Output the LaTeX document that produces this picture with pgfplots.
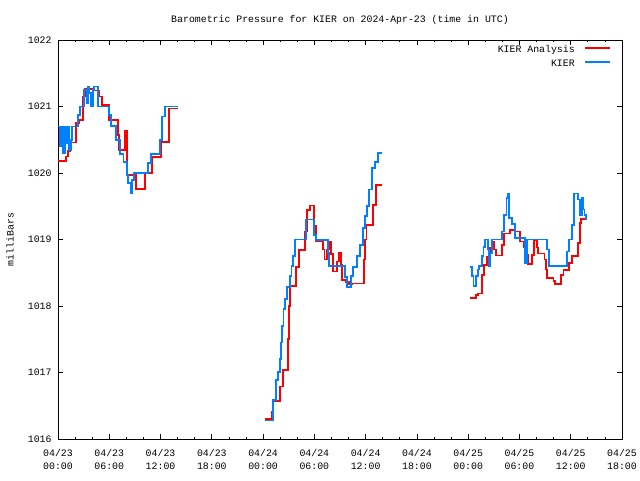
\documentclass[border=0pt]{standalone}
\usepackage{fontspec}
\setmainfont{Liberation Mono}
\usepackage{pgfplots}
\pgfplotsset{compat=1.18}
\definecolor{anared}{RGB}{255,0,0}
\definecolor{obsblue}{RGB}{0,128,255}
\newcommand{\gfont}{\fontsize{7.4pt}{9.75pt}\selectfont}
\pgfplotsset{
  anastyle/.style={const plot, draw=anared, color=anared, line width=1.3pt, mark=none},
  obsstyle/.style={const plot, draw=obsblue, color=obsblue, line width=1.3pt, mark=none},
}
\begin{document}
\begin{tikzpicture}
\path[use as bounding box] (-43.5pt,-30.75pt) rectangle (436.5pt,329.25pt);
\begin{axis}[
  at={(0,0)}, anchor=south west,
  scale only axis, width=423pt, height=299.25pt,
  xmin=0, xmax=66, ymin=1016, ymax=1022,
  xtick={0,6,...,66},
  xticklabels={{04/23\\00:00},{04/23\\06:00},{04/23\\12:00},{04/23\\18:00},{04/24\\00:00},{04/24\\06:00},{04/24\\12:00},{04/24\\18:00},{04/25\\00:00},{04/25\\06:00},{04/25\\12:00},{04/25\\18:00}},
  minor x tick num=2,
  ytick={1016,1017,...,1022},
  yticklabel style={/pgf/number format/1000 sep={}, /pgf/number format/assume math mode=true, font=\gfont, xshift=-1.3pt},
  xticklabel style={align=center, font=\gfont, yshift=-4.25pt},
  tick align=inside,
  major tick length=3.4pt, minor tick length=1.7pt,
  tick style={black, line width=0.6pt},
  axis line style={line width=0.6pt},
  title={Barometric Pressure for KIER on 2024-Apr-23 (time in UTC)},
  title style={font=\gfont, at={(0.5,1)}, anchor=base, yshift=7.15pt},
  ylabel={milliBars},
  ylabel style={font=\gfont, at={(axis description cs:0,0.5)}, anchor=center, rotate=0, yshift=36pt},
]
% KIER Analysis (red)
\addplot[anastyle] coordinates {
(0,1020.18) (0.94,1020.25) (1.17,1020.33) (1.40,1020.46) (2.11,1020.75) (2.42,1020.8)
(2.96,1021.15) (3.2,1021.26) (4.06,1021.24) (4.84,1021.15) (5.15,1021.02) (6.01,1020.8)
(7.06,1020.57) (7.14,1020.35) (7.84,1020.64) (8.07,1019.97) (9.09,1019.76) (10.18,1020.0)
(10.96,1020.24) (12.05,1020.47) (13.03,1020.97) (14.08,1020.97)};
% KIER (blue)
\addplot[obsstyle] coordinates {
(0,1020.7) (0.27,1020.4) (0.45,1020.7) (0.62,1020.3) (0.8,1020.7) (1.0,1020.45) (1.17,1020.7)
(1.33,1020.35) (1.5,1020.5) (1.6,1020.7) (2.3,1020.87) (2.57,1021.0) (3.08,1021.25)
(3.35,1021.05) (3.5,1021.3) (3.66,1021.2) (3.9,1021.0) (4.06,1021.25) (4.25,1021.3)
(4.64,1021.0) (6.0,1020.87) (6.2,1020.71) (6.79,1020.5) (7.26,1020.29) (7.65,1020.17)
(8.04,1019.97) (8.23,1019.85) (8.54,1019.7) (8.7,1019.9) (8.93,1020.0) (10.57,1020.15)
(10.88,1020.29) (11.94,1020.5) (12.2,1020.85) (12.52,1021.0) (14.08,1021.0)};
\addplot[anastyle] coordinates {
(24.22,1016.30) (25.0,1016.41) (25.2,1016.57) (25.98,1016.79) (26.29,1017.04) (26.95,1017.5)
(27.07,1018.0) (27.15,1018.30) (27.85,1018.59) (28.24,1018.84) (28.9,1019.12) (29.18,1019.44)
(29.5,1019.51) (29.95,1019.2) (30.15,1018.97) (31.05,1018.85) (31.2,1018.7) (31.52,1018.85)
(31.75,1018.97) (31.91,1018.78) (32.15,1018.52) (32.61,1018.67) (32.92,1018.8) (33.08,1018.62)
(33.24,1018.39) (33.7,1018.36) (34.09,1018.33) (34.37,1018.34) (35.81,1018.7) (35.95,1019.0)
(36.1,1019.22) (36.9,1019.52) (37.21,1019.82) (37.88,1019.82)};
\addplot[obsstyle] coordinates {
(24.22,1016.28) (25.2,1016.59) (25.51,1016.89) (25.78,1017.01) (25.95,1017.2) (26.1,1017.45)
(26.25,1017.7) (26.4,1017.95) (26.55,1018.1) (26.76,1018.29) (27.15,1018.45) (27.34,1018.6)
(27.54,1018.75) (27.74,1019.0) (29.0,1019.3) (29.95,1019.07) (30.15,1018.99) (31.56,1018.8)
(31.7,1018.6) (33.59,1018.44) (33.86,1018.29) (34.25,1018.45) (34.56,1018.59) (35.0,1018.75)
(35.34,1018.92) (35.73,1019.17) (35.95,1019.35) (36.12,1019.5) (36.4,1019.75) (36.71,1020.07)
(37.1,1020.17) (37.49,1020.3) (37.88,1020.3)};
\addplot[anastyle] coordinates {
(48.22,1018.12) (48.92,1018.17) (49.19,1018.19) (49.58,1018.47) (49.89,1018.62) (50.17,1018.74)
(50.56,1018.87) (50.75,1018.97) (51.06,1018.85) (51.22,1018.76) (51.92,1018.92) (52.23,1019.09)
(52.89,1019.14) (53.48,1019.12) (54.07,1018.97) (54.46,1018.89) (54.65,1018.95) (54.85,1018.77)
(55.04,1018.63) (55.51,1018.77) (55.74,1018.99) (56.02,1018.88) (56.21,1018.79) (56.92,1018.7)
(57.07,1018.55) (57.19,1018.42) (57.97,1018.38) (58.17,1018.33) (58.87,1018.47) (59.15,1018.54)
(59.84,1018.65) (60.11,1018.75) (60.89,1018.95) (61.09,1019.25) (61.2,1019.31) (61.87,1019.31)};
\addplot[obsstyle] coordinates {
(48.22,1018.59) (48.41,1018.45) (48.61,1018.30) (48.92,1018.45) (49.11,1018.55) (49.27,1018.60)
(49.58,1018.75) (49.78,1018.89) (49.95,1019.0) (50.28,1018.85) (50.40,1018.6) (50.56,1018.8)
(50.75,1019.0) (51.92,1019.12) (52.23,1019.37) (52.5,1019.62) (52.62,1019.69) (52.78,1019.32)
(53.09,1019.23) (53.48,1019.02) (54.65,1018.65) (54.85,1019.0) (57.19,1018.85) (57.46,1018.60)
(59.53,1018.82) (59.84,1019.0) (60.19,1019.22) (60.42,1019.69) (60.89,1019.6) (61.09,1019.37)
(61.29,1019.62) (61.44,1019.45) (61.6,1019.37) (61.76,1019.31) (61.87,1019.31)};
% legend
\node[anchor=base east, inner sep=0pt, font=\gfont] at (axis description cs:0.9167,0.9687) {KIER Analysis};
\node[anchor=base east, inner sep=0pt, font=\gfont] at (axis description cs:0.9167,0.9336) {KIER};
\draw[anared, line width=1.3pt] (axis description cs:0.9344,0.98) -- (axis description cs:0.9787,0.98);
\draw[obsblue, line width=1.3pt] (axis description cs:0.9344,0.9449) -- (axis description cs:0.9787,0.9449);
\end{axis}
\end{tikzpicture}
\end{document}
